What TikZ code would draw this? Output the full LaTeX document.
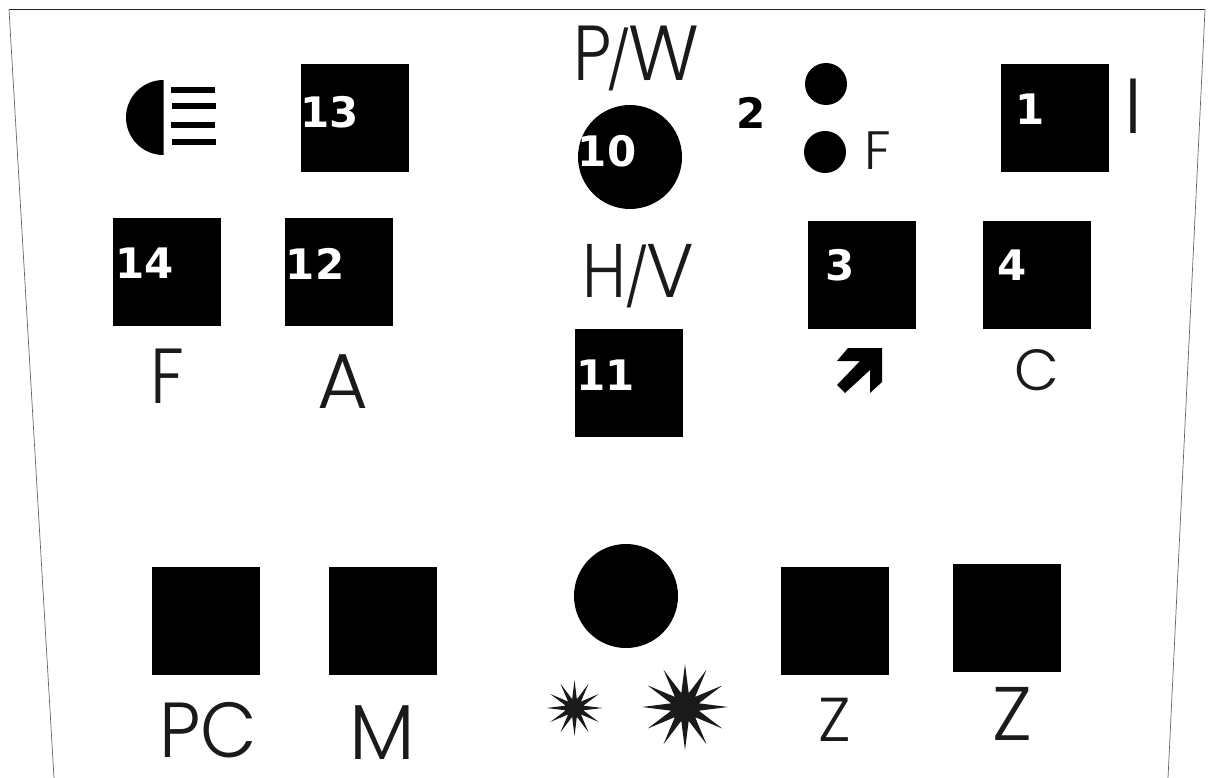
\documentclass[tikz,border=0pt]{standalone}
\usepackage{fontspec}
\usepackage{graphicx}
\usetikzlibrary{shapes.geometric}
\setmainfont{Poppins}[UprightFont=* Light]
\newfontfamily\numfont{DejaVu Sans}[BoldFont=* Bold]
\definecolor{ink}{HTML}{1A1A1A}
\newcommand{\xs}[2]{\scalebox{#1}[1]{#2}}
\newcommand{\slashmark}{{\fontsize{57}{57}\selectfont\raisebox{-1pt}{/}}}
\tikzset{
  sq/.style={fill=black,draw=none,inner sep=0pt,minimum size=108pt,anchor=north west},
  dot/.style={circle,fill=black,draw=none,inner sep=0pt,minimum size=#1},
  num/.style={inner sep=0pt,anchor=base,font=\numfont\bfseries\fontsize{42}{42}\selectfont},
  lbl/.style={inner sep=0pt,anchor=base,text=ink,font=\fontsize{#1}{#1}\selectfont},
  spark/.style={star,star points=12,star point ratio=#1,fill=ink,draw=none,inner sep=0pt},
  bar/.style={line width=5.5pt,draw=black},
  frametop/.style={draw=black!85,line width=0.9pt},
  frameside/.style={draw=black!60,line width=0.7pt}
}
\begin{document}
\begin{tikzpicture}[x=1pt,y=-1pt]
\useasboundingbox (0,0) rectangle (1214,778);
\fill[white] (0,0) rectangle (1214,778);
% frame
\coordinate (fl) at (9,9.5); \coordinate (fr) at (1205,9.5);
\coordinate (bl) at (54,778); \coordinate (br) at (1168,778);
\draw[frametop] (fl) -- (fr);
\draw[frameside] (fl) -- (bl);
\draw[frameside] (fr) -- (br);
% squares
\node[sq] (s13) at (301,64) {};
\node[sq] (s1) at (1001,64) {};
\node[sq] (s14) at (113,218) {};
\node[sq] (s12) at (285,218) {};
\node[sq] (s3) at (808,221) {};
\node[sq] (s4) at (983,221) {};
\node[sq] (s11) at (575,329) {};
\node[sq] (spc) at (152,567) {};
\node[sq] (sm) at (329,567) {};
\node[sq] (sz1) at (780.5,567) {};
\node[sq] (sz2) at (953,564) {};
% circles
\node[dot=104pt] (c10) at (630,157) {};
\node[dot=104pt] (cb) at (626,596) {};
\node[dot=42pt] (ct) at (826,84) {};
\node[dot=42pt] (cf) at (825,152) {};
% headlight
\fill[black] (163.5,80) arc[start angle=90,end angle=270,x radius=37.5,y radius=-37.5] -- cycle;
\draw[bar] (171,90) -- (215,90);
\draw[bar] (172,106) -- (216,106);
\draw[bar] (171,125) -- (215,125);
\draw[bar] (172,142) -- (216,142);
% arrow
\fill[black] (848,348) -- (882,348) -- (882,382) -- (870,393) -- (870,370) -- (845,393) -- (837,385) -- (860,361) -- (837,361) -- cycle;
% stars
\node[spark=3.1,minimum size=56pt] (st1) at (574.5,708) {};
\node[spark=3.0,minimum size=86pt] (st2) at (685,707) {};
% numbers
\node[num,text=white] (n13) at (329.5,127.5) {13};
\node[num,text=white] (n10) at (607,167) {10};
\node[num,text=black] (n2) at (751,129) {2};
\node[num,text=white] (n1) at (1030,125) {1};
\node[num,text=white] (n14) at (144.5,278.5) {14};
\node[num,text=white] (n12) at (315,279.5) {12};
\node[num,text=white] (n3) at (840,280.5) {3};
\node[num,text=white] (n4) at (1012,280.5) {4};
\node[num,text=white] (n11) at (605.5,390) {11};
% labels
\node[lbl=78] (tpw) at (636.5,81) {\xs{.87}{P}\kern-6pt\slashmark\kern-3pt\xs{.95}{W}};
\node[lbl=76] (thv) at (638,297) {\xs{.85}{H}\kern-2pt\slashmark\kern-3pt\xs{.95}{V}};
\node[lbl=54] (tf2) at (878,170) {F};
\node[lbl=78] (ti) at (1133,134) {I};
\node[lbl=78] (tf) at (167,403) {\xs{.88}{F}};
\node[lbl=78] (ta) at (342.5,408) {A};
\node[lbl=58] (tc) at (1037,390) {C};
\node[lbl=78] (tpc) at (208,757) {\xs{.94}{PC}};
\node[lbl=78] (tm) at (382,759) {M};
\node[lbl=62] (tz1) at (835,741) {Z};
\node[lbl=76] (tz2) at (1012,740) {Z};
\end{tikzpicture}
\end{document}
